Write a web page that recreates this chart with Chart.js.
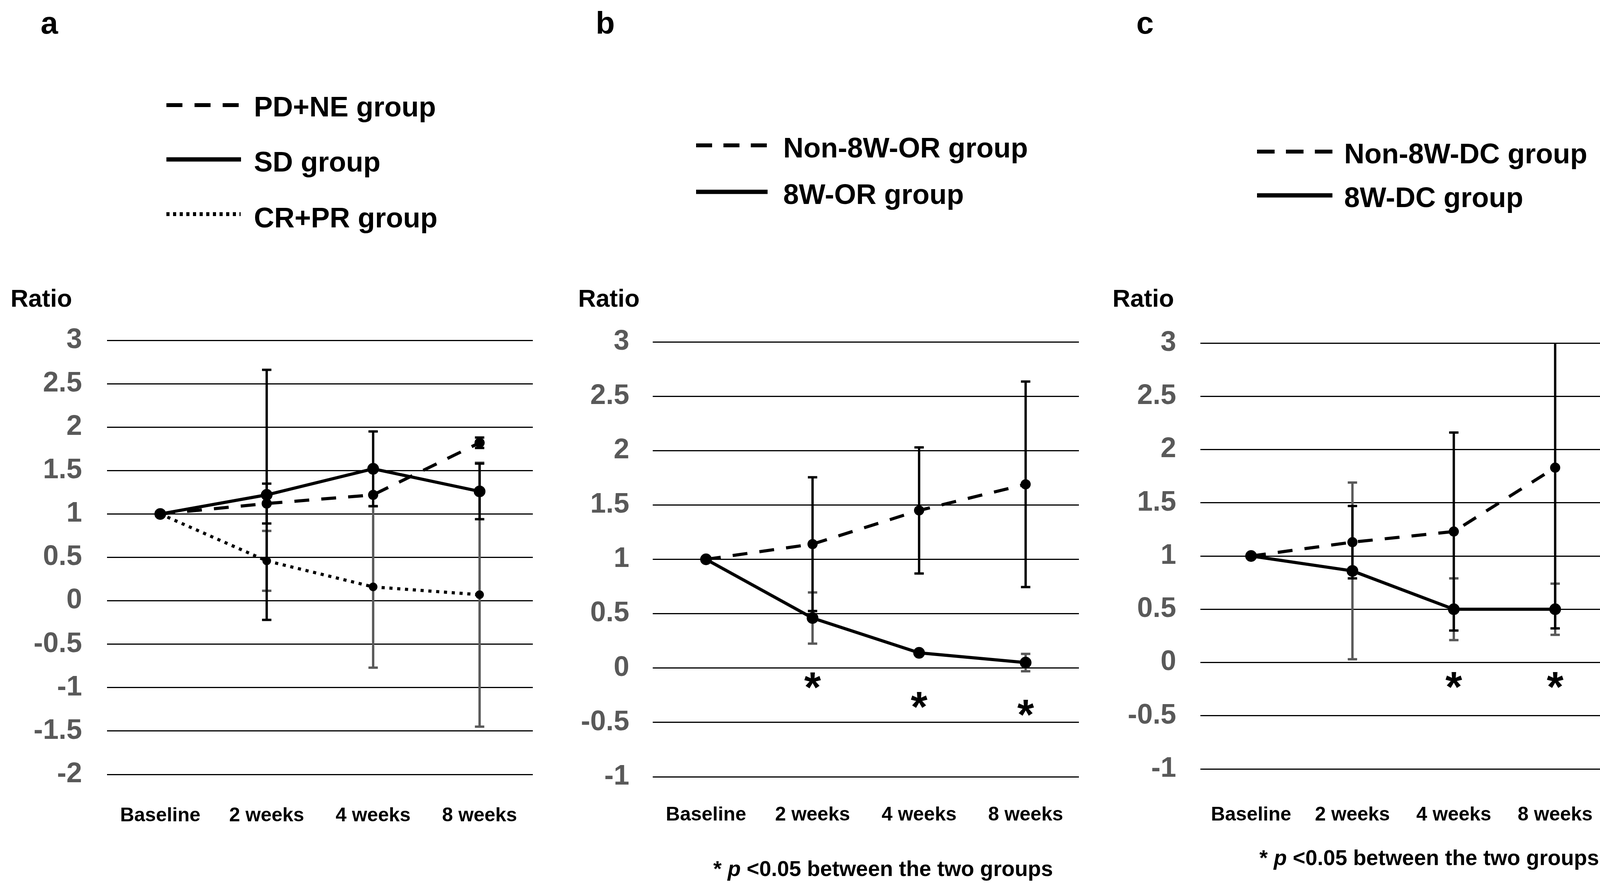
<!DOCTYPE html>
<html>
<head>
<meta charset="utf-8">
<script src="https://cdn.jsdelivr.net/npm/chart.js@4.4.0/dist/chart.umd.min.js"></script>
<style>
  html, body { margin: 0; padding: 0; background: #fff; }
  #page { position: relative; width: 4159px; height: 2265px; overflow: hidden; background: #fff; }
  canvas { position: absolute; }
  svg { position: absolute; left: 0; top: 0; pointer-events: none; }
  svg text { font-family: "Liberation Sans", Arial, sans-serif; font-weight: bold; fill: #000; }
</style>
</head>
<body>
<div id="page">
  <canvas id="chartA" width="1400" height="1442" style="left:0px;top:700px;width:1400px;height:1442px"></canvas>
  <canvas id="chartB" width="1360" height="1448" style="left:1440px;top:700px;width:1360px;height:1448px"></canvas>
  <canvas id="chartC" width="1359" height="1428" style="left:2800px;top:700px;width:1359px;height:1428px"></canvas>

  <svg width="4159" height="2265" viewBox="0 0 4159 2265">
    <!-- panel letters -->
    <text x="104" y="86" font-size="80">a</text>
    <text x="1525" y="86" font-size="80">b</text>
    <text x="2909" y="86" font-size="80">c</text>

    <!-- legend a -->
    <line x1="426" y1="269" x2="612" y2="269" stroke="#000" stroke-width="10" stroke-dasharray="41 31"/>
    <line x1="426" y1="408" x2="617" y2="408" stroke="#000" stroke-width="11"/>
    <line x1="426" y1="548" x2="616" y2="548" stroke="#000" stroke-width="10" stroke-dasharray="8 9"/>
    <text x="650" y="298" font-size="72">PD+NE group</text>
    <text x="650" y="439" font-size="72">SD group</text>
    <text x="650" y="582" font-size="72">CR+PR group</text>

    <!-- legend b -->
    <line x1="1782" y1="372" x2="1963" y2="372" stroke="#000" stroke-width="10" stroke-dasharray="41 29"/>
    <line x1="1782" y1="491" x2="1965" y2="491" stroke="#000" stroke-width="11"/>
    <text x="2005" y="403" font-size="72">Non-8W-OR group</text>
    <text x="2005" y="522" font-size="72">8W-OR group</text>

    <!-- legend c -->
    <line x1="3218" y1="388" x2="3411" y2="388" stroke="#000" stroke-width="10" stroke-dasharray="45 29"/>
    <line x1="3218" y1="500" x2="3411" y2="500" stroke="#000" stroke-width="11"/>
    <text x="3441" y="418" font-size="72">Non-8W-DC group</text>
    <text x="3441" y="530" font-size="72">8W-DC group</text>

    <!-- axis titles -->
    <text x="27" y="785" font-size="63">Ratio</text>
    <text x="1480" y="785" font-size="63">Ratio</text>
    <text x="2848" y="785" font-size="63">Ratio</text>

    <!-- footnotes -->
    <text x="1826" y="2242" font-size="55">* <tspan font-style="italic">p</tspan> &lt;0.05 between the two groups</text>
    <text x="3224" y="2214" font-size="55">* <tspan font-style="italic">p</tspan> &lt;0.05 between the two groups</text>
  </svg>
</div>

<script>
// Datos
const categories = ['Baseline', '2 weeks', '4 weeks', '8 weeks'];

// --- panel a ---
const aPdNe = [1, 1.12, 1.22, 1.82];
const aPdNeErr = [0, 0.23, 0, 0.06];
const aSd = [1, 1.22, 1.52, 1.26];
const aSdErr = [0, 1.44, 0.43, 0.32];
const aCrPr = [1, 0.46, 0.16, 0.07];
const aCrPrErr = [0, 0.345, 0.93, 1.52];

// --- panel b ---
const bNon8wOr = [1, 1.14, 1.45, 1.69];
const bNon8wOrErr = [0, 0.615, 0.58, 0.945];
const b8wOr = [1, 0.46, 0.14, 0.05];
const b8wOrErr = [0, 0.235, 0.02, 0.08];
const bStarY = [null, -0.14, -0.32, -0.39];

// --- panel c ---
const cNon8wDc = [1, 1.13, 1.23, 1.83];
const cNon8wDcErr = [0, 0.34, 0.93, 1.51];
const c8wDc = [1, 0.86, 0.5, 0.5];
const c8wDcErr = [0, 0.83, 0.29, 0.24];
const cStarY = [null, null, -0.19, -0.19];

const FONT = '"Liberation Sans", Arial, sans-serif';
const GREY = '#595959';
Chart.defaults.font.family = FONT;

// barras de error, las grises primero y luego las negras
const errorBars = {
    id: 'errorBars',
    beforeDatasetsDraw(chart) {
        const { ctx, chartArea, scales: { x, y } } = chart;
        ctx.save();
        ctx.beginPath();
        ctx.rect(chartArea.left, chartArea.top, chartArea.width, chartArea.height);
        ctx.clip();
        const sets = chart.data.datasets.slice().sort((a, b) => a.errOrder - b.errOrder);
        sets.forEach(ds => {
            ds.err.forEach((e, i) => {
                if (!e) return;
                const px = x.getPixelForValue(i);
                const top = y.getPixelForValue(ds.data[i] + e);
                const bot = y.getPixelForValue(ds.data[i] - e);
                ctx.strokeStyle = ds.errColor;
                ctx.lineWidth = 6;
                ctx.lineCap = 'butt';
                ctx.beginPath();
                ctx.moveTo(px, top); ctx.lineTo(px, bot);
                ctx.moveTo(px - 12, top); ctx.lineTo(px + 12, top);
                ctx.moveTo(px - 12, bot); ctx.lineTo(px + 12, bot);
                ctx.stroke();
            });
        });
        ctx.restore();
    }
};

// asteriscos de significación
const stars = {
    id: 'stars',
    afterDatasetsDraw(chart, args, opts) {
        if (!opts.y) return;
        const { ctx, scales: { x, y } } = chart;
        const size = 110;
        ctx.save();
        ctx.fillStyle = '#000';
        ctx.font = `bold ${size}px ${FONT}`;
        ctx.textAlign = 'center';
        ctx.textBaseline = 'alphabetic';
        opts.y.forEach((v, i) => {
            if (v === null) return;
            ctx.fillText('*', x.getPixelForValue(i), y.getPixelForValue(v) + size * 0.43);
        });
        ctx.restore();
    }
};

function lineSet(data, err, style, errColor, errOrder) {
    const dash = style === 'dashed' ? [38, 31] : style === 'dotted' ? [8, 12] : [];
    const radius = style === 'solid' ? 15 : style === 'dashed' ? 13 : 11;
    return {
        data: data,
        err: err,
        errColor: errColor,
        errOrder: errOrder,
        borderColor: '#000',
        borderWidth: 8,
        borderDash: dash,
        borderCapStyle: 'butt',
        pointRadius: radius,
        pointBackgroundColor: '#000',
        pointBorderWidth: 0,
        tension: 0,
        fill: false
    };
}

function makePanel(id, datasets, opt) {
    return new Chart(document.getElementById(id), {
        type: 'line',
        data: { labels: categories, datasets: datasets },
        plugins: [errorBars, stars],
        options: {
            responsive: false,
            animation: false,
            devicePixelRatio: 1,
            layout: { padding: { left: 0, right: opt.padRight, top: opt.padTop, bottom: 0 } },
            plugins: {
                legend: { display: false },
                tooltip: { enabled: false },
                stars: { y: opt.stars }
            },
            scales: {
                x: {
                    offset: true,
                    grid: { display: false },
                    border: { display: false },
                    ticks: {
                        color: '#000',
                        font: { size: 50, weight: 'bold' },
                        padding: opt.xPad,
                        maxRotation: 0,
                        autoSkip: false
                    },
                    afterFit: s => { s.height = 160; }
                },
                y: {
                    min: opt.min,
                    max: opt.max,
                    grid: { color: '#000', lineWidth: 3, drawTicks: false },
                    border: { display: false },
                    ticks: {
                        stepSize: 0.5,
                        color: GREY,
                        font: { size: 72, weight: 'bold' },
                        padding: opt.yPad,
                        callback: v => String(Math.round(v * 10) / 10)
                    },
                    afterFit: s => { s.width = opt.yWidth; }
                }
            }
        }
    });
}

makePanel('chartA', [
    lineSet(aPdNe, aPdNeErr, 'dashed', '#000', 1),
    lineSet(aSd, aSdErr, 'solid', '#000', 2),
    lineSet(aCrPr, aCrPrErr, 'dotted', GREY, 0)
], { min: -2, max: 3, padTop: 171, padRight: 36, yWidth: 274, yPad: 64, xPad: 68, stars: null });

makePanel('chartB', [
    lineSet(bNon8wOr, bNon8wOrErr, 'dashed', '#000', 1),
    lineSet(b8wOr, b8wOrErr, 'solid', GREY, 0)
], { min: -1, max: 3, padTop: 175, padRight: 38, yWidth: 231, yPad: 60, xPad: 60, stars: bStarY });

makePanel('chartC', [
    lineSet(cNon8wDc, cNon8wDcErr, 'dashed', '#000', 1),
    lineSet(c8wDc, c8wDcErr, 'solid', GREY, 0)
], { min: -1, max: 3, padTop: 178, padRight: 11, yWidth: 273, yPad: 62, xPad: 80, stars: cStarY });
</script>
</body>
</html>
